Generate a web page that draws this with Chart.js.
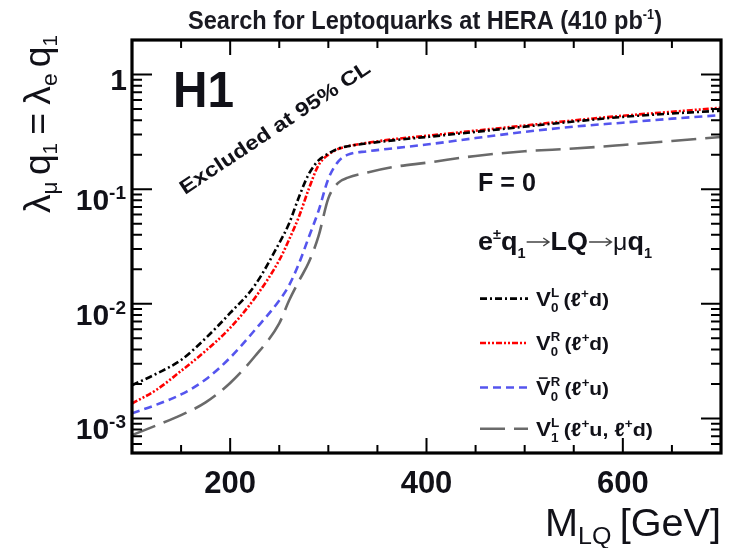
<!DOCTYPE html>
<html>
<head>
<meta charset="utf-8">
<script src="https://cdn.jsdelivr.net/npm/chart.js@4.4.0/dist/chart.umd.min.js"></script>
<style>
  html, body { margin: 0; padding: 0; background: #fff; }
  #wrap { width: 731px; height: 548px; position: relative; }
</style>
</head>
<body>
<div id="wrap"><canvas id="lqChart"></canvas></div>
<script>
// leptoquark mass [GeV]
const masses = [100, 125, 150, 175, 200, 225, 250, 260, 270, 280, 290, 300, 310, 320, 340, 370, 400, 450, 500, 550, 600, 650, 700];

// 95% CL upper limits on lambda_mu q1 = lambda_e q1
const limV0L  = [0.00195, 0.00246, 0.00324, 0.00501, 0.00832, 0.01445, 0.0339, 0.0501, 0.0851, 0.135, 0.178, 0.204, 0.226, 0.237, 0.251, 0.269, 0.285, 0.316, 0.351, 0.389, 0.427, 0.457, 0.484];
const limV0R  = [0.00135, 0.00178, 0.0026, 0.00389, 0.00617, 0.0112, 0.024, 0.0363, 0.0575, 0.100, 0.162, 0.200, 0.224, 0.237, 0.254, 0.275, 0.292, 0.324, 0.359, 0.398, 0.437, 0.473, 0.513];
const limV0tR = [0.00111, 0.00132, 0.00162, 0.00219, 0.00339, 0.00589, 0.0107, 0.0145, 0.0224, 0.038, 0.0646, 0.123, 0.174, 0.200, 0.214, 0.229, 0.245, 0.279, 0.316, 0.351, 0.380, 0.412, 0.442];
const limV1L  = [0.000716, 0.000871, 0.00107, 0.00138, 0.00204, 0.00347, 0.00676, 0.0107, 0.0158, 0.0229, 0.0389, 0.0832, 0.1135, 0.126, 0.140, 0.158, 0.170, 0.195, 0.214, 0.226, 0.243, 0.263, 0.285];

// axis ranges and labelled ticks
const xRange = [100, 700];
const yRange = [5e-4, 2];
const xMajorTicks = [200, 400, 600];
const yDecades = [-3, -2, -1, 0];

const FONT = "'Liberation Sans', Arial, Helvetica, sans-serif";
const INK = '#111118';

function fontOf(p) {
  return (p.weight || 'normal') + ' ' + p.size + 'px ' + (p.family || FONT);
}

function partWidth(ctx, p) {
  ctx.font = fontOf(p);
  if (p.stack) return Math.max(ctx.measureText(p.stack[0]).width, ctx.measureText(p.stack[1]).width);
  return ctx.measureText(p.t).width;
}

// draws a run of text pieces (sub/superscripts via dy) from a baseline point
function drawRich(ctx, parts, x, y, opt) {
  opt = opt || {};
  let w = 0;
  parts.forEach(p => { w += partWidth(ctx, p) + (p.gap || 0); });
  const sx = opt.width ? opt.width / w : 1;
  ctx.save();
  ctx.translate(x, y);
  if (opt.rotate) ctx.rotate(opt.rotate);
  if (opt.align === 'right') ctx.translate(-w * sx, 0);
  if (opt.align === 'center') ctx.translate(-w * sx / 2, 0);
  ctx.scale(sx, 1);
  ctx.textAlign = 'left';
  ctx.textBaseline = 'alphabetic';
  let cx = 0;
  parts.forEach(p => {
    ctx.font = fontOf(p);
    ctx.fillStyle = p.color || opt.color || INK;
    const pw = partWidth(ctx, p);
    if (p.stack) {
      ctx.fillText(p.stack[0], cx, p.dy[0]);
      ctx.fillText(p.stack[1], cx, p.dy[1]);
    } else if (p.arrow) {
      // thin arrow, drawn as a line with a small head
      const ay = p.dy || 0;
      ctx.save();
      ctx.strokeStyle = ctx.fillStyle;
      ctx.lineWidth = 1.4;
      ctx.beginPath();
      ctx.moveTo(cx + 1, ay); ctx.lineTo(cx + pw - 2, ay);
      ctx.moveTo(cx + pw - 7, ay - 4); ctx.lineTo(cx + pw - 1.5, ay); ctx.lineTo(cx + pw - 7, ay + 4);
      ctx.stroke();
      ctx.restore();
    } else {
      ctx.fillText(p.t, cx, p.dy || 0);
      if (p.overbar) {
        ctx.fillRect(cx + pw * 0.2, -p.size * 0.86, pw * 0.6, 1.6);
      }
    }
    cx += pw + (p.gap || 0);
  });
  ctx.restore();
}

const series = [
  { label: 'V0L',  data: limV0L,  color: '#000000', dash: [7, 3, 2, 3] },
  { label: 'V0R',  data: limV0R,  color: '#ff0000', dash: [6, 2, 2, 2, 2, 2] },
  { label: 'V0tR', data: limV0tR, color: '#5555ee', dash: [8, 5] },
  { label: 'V1L',  data: limV1L,  color: '#6a6a6a', dash: [25, 9] }
];

// legend text for each curve
function lgd(sup, sub, quark, bar) {
  const parts = [
    { t: 'V', size: 20, weight: 'bold', overbar: bar },
    { stack: [sup, sub], dy: [-9, 6], size: 12, weight: 'bold', gap: 4 },
    { t: '(', size: 19, weight: 'bold' }, { t: '\u2113', size: 19, weight: 'bold' },
    { t: '+', size: 12, weight: 'bold', dy: -8 }
  ];
  if (quark === 'ud') {
    parts.push({ t: 'u, ', size: 19, weight: 'bold' }, { t: '\u2113', size: 19, weight: 'bold' },
      { t: '+', size: 12, weight: 'bold', dy: -8 }, { t: 'd)', size: 19, weight: 'bold' });
  } else {
    parts.push({ t: quark + ')', size: 19, weight: 'bold' });
  }
  return parts;
}
const legendText = [lgd('L', '0', 'd'), lgd('R', '0', 'd'), lgd('R', '0', 'u', true), lgd('L', '1', 'ud')];
const legendWidths = [73, 73, 73, 117];
const legendRows = [298.6, 343, 387.5, 428.7];

const framePlugin = {
  id: 'h1frame',
  afterDatasetsDraw(chart) {
    const ctx = chart.ctx;
    const a = chart.chartArea;
    const xs = chart.scales.x, ys = chart.scales.y;
    ctx.save();

    // ticks on all four sides, pointing inwards
    ctx.strokeStyle = '#000';
    ctx.lineWidth = 2;
    ctx.beginPath();
    for (let m = 150; m < xRange[1]; m += 50) {
      const px = xs.getPixelForValue(m);
      const len = xMajorTicks.includes(m) ? 15 : 8;
      ctx.moveTo(px, a.bottom); ctx.lineTo(px, a.bottom - len);
      ctx.moveTo(px, a.top); ctx.lineTo(px, a.top + len);
    }
    for (let d = -4; d <= 0; d++) {
      for (let k = 1; k <= 9; k++) {
        const v = k * Math.pow(10, d);
        if (v < yRange[0] || v > yRange[1]) continue;
        const py = ys.getPixelForValue(v);
        const len = k === 1 ? 20 : 10;
        ctx.moveTo(a.left, py); ctx.lineTo(a.left + len, py);
        ctx.moveTo(a.right, py); ctx.lineTo(a.right - len, py);
      }
    }
    ctx.stroke();

    ctx.lineWidth = 3.2;
    ctx.strokeRect(a.left, a.top, a.right - a.left, a.bottom - a.top);

    // tick labels
    ctx.fillStyle = INK;
    ctx.font = 'bold 31px ' + FONT;
    ctx.textAlign = 'center';
    ctx.textBaseline = 'alphabetic';
    xMajorTicks.forEach(m => ctx.fillText(String(m), xs.getPixelForValue(m), 493));

    yDecades.forEach(d => {
      const py = ys.getPixelForValue(Math.pow(10, d));
      if (d === 0) {
        drawRich(ctx, [{ t: '1', size: 30, weight: 'bold' }], 127, py + 15, { align: 'right' });
      } else {
        drawRich(ctx, [{ t: '10', size: 30, weight: 'bold' }, { t: String(d), size: 19, weight: 'bold', dy: -11 }],
          126, py + 21, { align: 'right' });
      }
    });

    // axis titles
    drawRich(ctx, [
      { t: 'M', size: 38 }, { t: 'LQ', size: 24, dy: 8, gap: 8 }, { t: '[GeV]', size: 38 }
    ], 545, 536, { width: 176 });

    drawRich(ctx, [
      { t: '\u03bb', size: 36 }, { t: '\u03bc', size: 22, dy: 7, gap: 6 }, { t: 'q', size: 36 }, { t: '1', size: 20, dy: 7, gap: 8 },
      { t: '=', size: 36, gap: 8 }, { t: '\u03bb', size: 36 }, { t: 'e', size: 22, dy: 7, gap: 6 }, { t: 'q', size: 36 }, { t: '1', size: 20, dy: 7 }
    ], 50, 213, { rotate: -Math.PI / 2, width: 178 });

    // title
    drawRich(ctx, [
      { t: 'Search for Leptoquarks at HERA (410 pb', size: 26, weight: 'bold' },
      { t: '-1', size: 14, weight: 'bold', dy: -10 },
      { t: ')', size: 26, weight: 'bold' }
    ], 188, 29, { width: 474, color: '#1a1a22' });

    // annotations inside the frame
    drawRich(ctx, [{ t: 'H1', size: 50, weight: 'bold' }], 173, 107, { width: 61 });
    drawRich(ctx, [{ t: 'Excluded at 95% CL', size: 20, weight: 'bold' }], 185, 195,
      { rotate: -33.5 * Math.PI / 180, width: 224 });
    drawRich(ctx, [{ t: 'F = 0', size: 25, weight: 'bold' }], 478, 191, { width: 58 });
    drawRich(ctx, [
      { t: 'e', size: 26, weight: 'bold' }, { t: '\u00b1', size: 14, weight: 'bold', dy: -11 },
      { t: 'q', size: 26, weight: 'bold' }, { t: '1', size: 14, weight: 'bold', dy: 8 },
      { t: '\u2192', size: 24, arrow: true, dy: -8, color: '#444' },
      { t: 'LQ', size: 26, weight: 'bold' },
      { t: '\u2192', size: 24, arrow: true, dy: -8, color: '#444' },
      { t: '\u03bc', size: 24 },
      { t: 'q', size: 26, weight: 'bold' }, { t: '1', size: 14, weight: 'bold', dy: 8 }
    ], 478, 250, { width: 174 });

    // legend: line sample + label
    chart.data.datasets.forEach((ds, i) => {
      const yRow = legendRows[i];
      ctx.save();
      ctx.strokeStyle = ds.borderColor;
      ctx.lineWidth = ds.borderWidth;
      ctx.setLineDash(ds.borderDash);
      ctx.beginPath();
      ctx.moveTo(480, yRow); ctx.lineTo(528, yRow);
      ctx.stroke();
      ctx.restore();
      drawRich(ctx, legendText[i], 536, yRow + 7, { width: legendWidths[i] });
    });

    ctx.restore();
  }
};

new Chart(document.getElementById('lqChart'), {
  type: 'line',
  data: {
    datasets: series.map(s => ({
      label: s.label,
      data: masses.map((m, i) => ({ x: m, y: s.data[i] })),
      borderColor: s.color,
      borderWidth: 2.6,
      borderDash: s.dash,
      pointRadius: 0,
      fill: false,
      cubicInterpolationMode: 'monotone'
    }))
  },
  options: {
    responsive: true,
    maintainAspectRatio: false,
    animation: false,
    layout: { padding: { left: 132, right: 10, top: 40, bottom: 95 } },
    plugins: { legend: { display: false }, tooltip: { enabled: false } },
    scales: {
      x: { type: 'linear', min: xRange[0], max: xRange[1], display: false },
      y: { type: 'logarithmic', min: yRange[0], max: yRange[1], display: false }
    }
  },
  plugins: [framePlugin]
});
</script>
</body>
</html>
